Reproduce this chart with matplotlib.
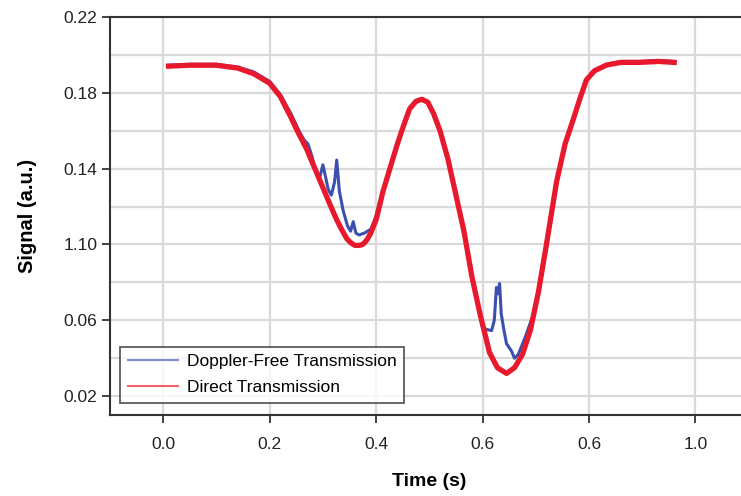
import matplotlib
matplotlib.use("Agg")
import matplotlib.pyplot as plt
from matplotlib.lines import Line2D
from matplotlib.ticker import FixedLocator

plt.rcParams['font.family'] = ['Liberation Sans', 'DejaVu Sans']

# Direct transmission (red)
direct_t = [0.010, 0.050, 0.100, 0.140, 0.170, 0.200, 0.220, 0.240, 0.250, 0.270,
            0.285, 0.300, 0.315, 0.326, 0.335, 0.345, 0.352, 0.360, 0.368, 0.375,
            0.383, 0.390, 0.400, 0.413, 0.427, 0.440, 0.452, 0.463, 0.475, 0.486,
            0.497, 0.508, 0.520, 0.535, 0.550, 0.565, 0.580, 0.595, 0.613, 0.628,
            0.645, 0.660, 0.675, 0.690, 0.705, 0.720, 0.739, 0.755, 0.770, 0.783,
            0.795, 0.810, 0.833, 0.860, 0.895, 0.930, 0.960]
direct_y = [0.194, 0.1945, 0.1945, 0.193, 0.190, 0.185, 0.178, 0.167, 0.161, 0.150,
            0.140, 0.130, 0.120, 0.113, 0.108, 0.103, 0.101, 0.0995, 0.0995, 0.100,
            0.1025, 0.106, 0.113, 0.128, 0.141, 0.153, 0.163, 0.1715, 0.1755, 0.1765,
            0.175, 0.169, 0.160, 0.145, 0.126, 0.107, 0.083, 0.0636, 0.043, 0.035,
            0.032, 0.035, 0.042, 0.055, 0.075, 0.100, 0.133, 0.153, 0.1656, 0.177,
            0.1867, 0.1915, 0.1946, 0.196, 0.196, 0.1965, 0.196]

# Doppler-free transmission (blue)
dfree_t = [0.010, 0.050, 0.100, 0.140, 0.170, 0.200, 0.220, 0.240, 0.255, 0.265,
           0.272, 0.280, 0.287, 0.293, 0.300, 0.304, 0.310, 0.316, 0.322, 0.326,
           0.331, 0.338, 0.346, 0.352, 0.357, 0.362, 0.368, 0.378, 0.390, 0.400,
           0.413, 0.427, 0.440, 0.452, 0.463, 0.475, 0.486, 0.497, 0.508, 0.520,
           0.535, 0.550, 0.565, 0.580, 0.589, 0.600, 0.610, 0.617, 0.622, 0.626,
           0.629, 0.632, 0.635, 0.640, 0.645, 0.654, 0.660, 0.667, 0.680, 0.694,
           0.705, 0.720, 0.739, 0.755, 0.770, 0.783, 0.795, 0.810, 0.833, 0.860,
           0.895, 0.930, 0.960]
dfree_y = [0.1945, 0.195, 0.195, 0.1935, 0.191, 0.186, 0.179, 0.169, 0.160, 0.155,
           0.153, 0.146, 0.138, 0.134, 0.142, 0.137, 0.129, 0.126, 0.133, 0.1445,
           0.128, 0.118, 0.110, 0.107, 0.112, 0.106, 0.105, 0.106, 0.108, 0.115,
           0.129, 0.142, 0.1535, 0.1635, 0.172, 0.176, 0.177, 0.1755, 0.1695, 0.1605,
           0.1455, 0.1265, 0.1075, 0.084, 0.072, 0.056, 0.055, 0.0546, 0.060, 0.0773,
           0.074, 0.0794, 0.0636, 0.055, 0.0477, 0.044, 0.040, 0.042, 0.051, 0.062,
           0.0755, 0.1005, 0.1335, 0.1535, 0.166, 0.1775, 0.187, 0.192, 0.195, 0.1965,
           0.1965, 0.197, 0.1965]

# tick labels as printed on the original figure
x_ticks = [0.0, 0.2, 0.4, 0.6, 0.8, 1.0]
x_labels = ['0.0', '0.2', '0.4', '0.6', '0.6', '1.0']
y_ticks = [0.02, 0.06, 0.10, 0.14, 0.18, 0.22]
y_labels = ['0.02', '0.06', '1.10', '0.14', '0.18', '0.22']

fig = plt.figure(figsize=(7.41, 4.96), dpi=100)
ax = fig.add_axes([0.1484, 0.163, 0.862, 0.803])

ax.plot(dfree_t, dfree_y, color='#3b4fae', lw=2.2, zorder=3, solid_joinstyle='round')
ax.plot(direct_t, direct_y, color='#e8192c', lw=3.8, zorder=4, solid_joinstyle='round')

ax.set_xlim(-0.1, 1.1)
ax.set_ylim(0.01, 0.22)

ax.set_xticks(x_ticks)
ax.set_xticklabels(x_labels)
ax.set_yticks(y_ticks)
ax.set_yticklabels(y_labels)
ax.yaxis.set_minor_locator(FixedLocator([0.04, 0.08, 0.12, 0.16, 0.20]))

ax.grid(True, which='major', color='#d9d9d9', lw=1.6, zorder=0)
ax.grid(True, which='minor', axis='y', color='#d9d9d9', lw=1.6, zorder=0)
ax.set_axisbelow(True)

ax.tick_params(axis='both', which='major', labelsize=12.5, length=6, width=1.3,
               color='#333333', labelcolor='#222222')
ax.tick_params(axis='x', pad=10)
ax.tick_params(axis='y', pad=3)
ax.tick_params(which='minor', length=0)

for side in ['left', 'bottom', 'top']:
    ax.spines[side].set_color('#333333')
    ax.spines[side].set_linewidth(1.5)
ax.spines['right'].set_visible(False)

ax.set_xlabel('Time (s)', fontsize=14, fontweight='bold', labelpad=15)
ax.set_ylabel('Signal (a.u.)', fontsize=14.5, fontweight='bold', labelpad=19)

handles = [Line2D([], [], color='#7f8bd0', lw=1.5),
           Line2D([], [], color='#f2606c', lw=1.5)]
leg = ax.legend(handles, ['Doppler-Free Transmission', 'Direct Transmission'],
                loc='lower left', bbox_to_anchor=(0.0157, 0.030), borderaxespad=0,
                fontsize=12.5, frameon=True, fancybox=False, handlelength=2.9,
                handletextpad=0.5, borderpad=0.45, labelspacing=0.62)
leg.get_frame().set_edgecolor('#333333')
leg.get_frame().set_linewidth(1.3)

plt.savefig('out.png', dpi=100)
